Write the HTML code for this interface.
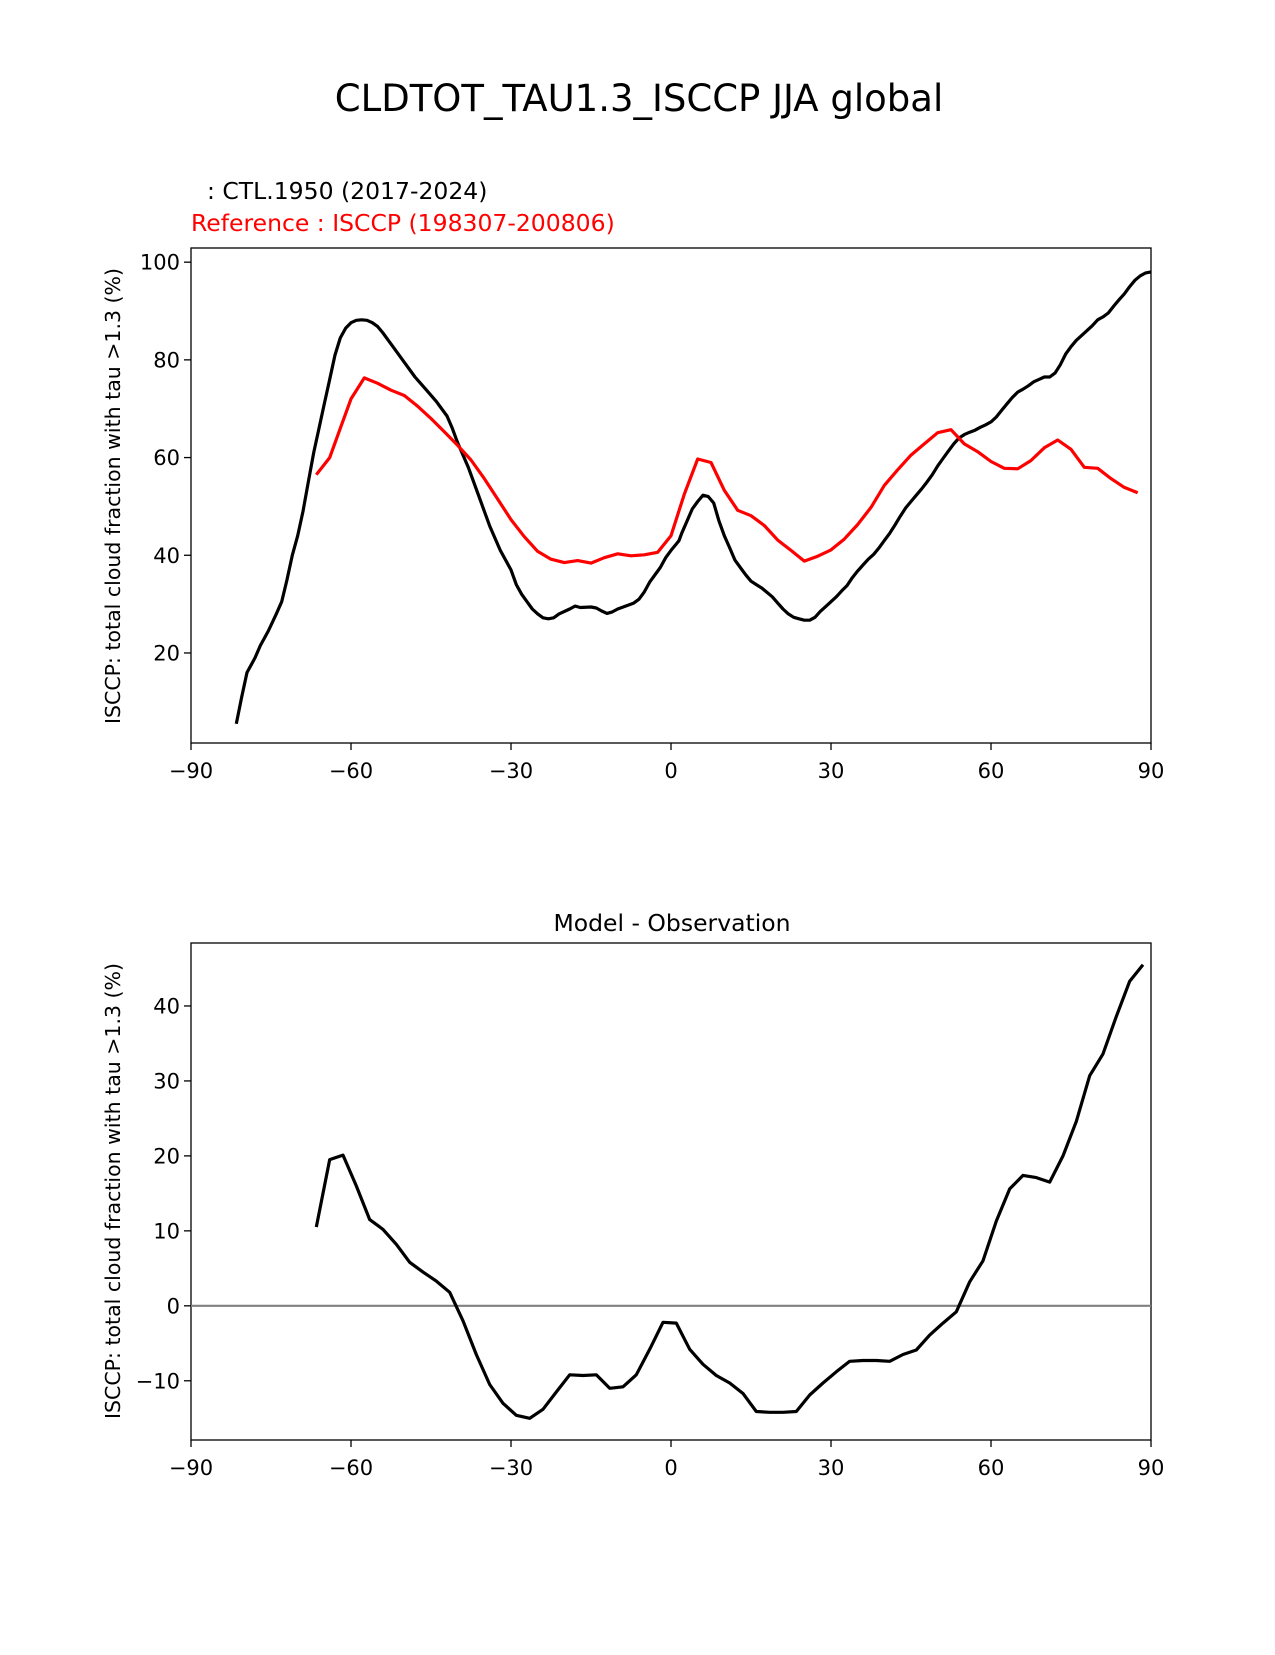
<!DOCTYPE html>
<html><head><meta charset="utf-8"><style>
html,body{margin:0;padding:0;background:#fff;}
svg text{font-family:"DejaVu Sans","Liberation Sans",sans-serif;}
</style></head><body>
<svg id="fig" width="1275" height="1650" viewBox="0 0 1275 1650" xmlns="http://www.w3.org/2000/svg">
<text x="639" y="111" font-size="37" text-anchor="middle">CLDTOT_TAU1.3_ISCCP JJA global</text>
<text x="207" y="199" font-size="23.5">: CTL.1950 (2017-2024)</text>
<text x="191" y="231" font-size="23.5" fill="#ff0000">Reference : ISCCP (198307-200806)</text>
<text x="672" y="931" font-size="23.5" text-anchor="middle">Model - Observation</text>
<g id="top"></g>
<g id="bot"></g>
</svg>
<script>
const modelLat=[-81.5,-80.5,-79.5,-78,-77,-75.5,-74,-73,-72,-71,-70,-69,-68,-67,-66,-65,-64,-63,-62,-61,-60,-59,-58,-57,-56,-55,-54,-53,-52,-50,-48,-46,-44,-42,-41,-40,-38,-36,-34,-32,-30,-29,-28,-27,-26,-25,-24,-23,-22,-21,-19,-18,-17,-15,-14,-13,-12,-11,-10,-8,-7,-6,-5,-4,-2,-1,0,1,1.5,2,3,4,5,6,7,8,9,10,11,12,13,14,15,16,17,18,19,20,21,22,23,24,25,26,27,28,29,30,31,32,33,34,35,36,37,38,39,40,41,42,43,44,45,46,47,48,49,50,51,52,53,54,55,56,57,58,59,60,61,62,63,64,65,66,67,68,69,70,71,72,73,74,75,76,77,78,79,80,81,82,83,84,85,86,87,88,89,90];
const modelVal=[5.5,11,16,19,21.5,24.5,28,30.5,35,40,44,49,55,61,66,71,76,81,84.5,86.5,87.6,88.1,88.2,88.1,87.6,86.8,85.5,84,82.5,79.5,76.5,74,71.5,68.5,66,63,58,52,46,41,37,34,32,30.5,29,28,27.2,27,27.2,28,29,29.6,29.3,29.4,29.2,28.6,28.1,28.4,29,29.8,30.2,31,32.5,34.5,37.5,39.5,41,42.3,43,44.5,47,49.5,51,52.3,52,50.7,47,44,41.5,39,37.5,36,34.7,34,33.3,32.4,31.5,30.2,29,28,27.3,27,26.7,26.7,27.3,28.5,29.5,30.5,31.5,32.7,33.8,35.4,36.8,38,39.2,40.2,41.5,43,44.5,46.2,48,49.7,51,52.3,53.6,55,56.5,58.3,59.8,61.3,62.8,64,64.7,65.2,65.6,66.2,66.7,67.3,68.3,69.7,71,72.3,73.4,74,74.7,75.5,76,76.5,76.5,77.3,79,81.2,82.7,84,85,86,87,88.2,88.8,89.6,91,92.3,93.5,95,96.3,97.2,97.8,98];
const obsLat=[-66.5,-64,-62,-60,-57.5,-55,-52.5,-50,-47.5,-45,-42.5,-40,-37.5,-35,-32.5,-30,-27.5,-25,-22.5,-20,-17.5,-15,-12.5,-10,-7.5,-5,-2.5,0,2.5,5,7.5,10,12.5,15,17.5,20,22.5,25,27.5,30,32.5,35,37.5,40,42.5,45,47.5,50,52.5,55,57.5,60,62.5,65,67.5,70,72.5,75,77.5,80,82.5,85,87.5];
const obsVal=[56.5,60,66,72,76.3,75.2,73.8,72.7,70.5,68,65.3,62.5,59.5,55.7,51.5,47.3,43.8,40.8,39.2,38.5,38.9,38.4,39.5,40.3,39.9,40.1,40.6,44,52.5,59.7,59,53.3,49.2,48.1,46.1,43.1,41,38.8,39.8,41.1,43.3,46.3,49.8,54.3,57.5,60.5,62.8,65.1,65.7,62.8,61.2,59.2,57.8,57.7,59.4,62,63.6,61.7,58,57.8,55.7,53.9,52.8];
const diffLat=[-66.5,-64,-61.5,-59,-56.5,-54,-51.5,-49,-46.5,-44,-41.5,-39,-36.5,-34,-31.5,-29,-26.5,-24,-21.5,-19,-16.5,-14,-11.5,-9,-6.5,-4,-1.5,1,3.5,6,8.5,11,13.5,16,18.5,21,23.5,26,28.5,31,33.5,36,38.5,41,43.5,46,48.5,51,53.5,56,58.5,61,63.5,66,68.5,71,73.5,76,78.5,81,83.5,86,88.5];
const diffVal=[10.5,19.5,20.1,16,11.5,10.2,8.2,5.8,4.5,3.3,1.8,-2,-6.5,-10.5,-13,-14.6,-15,-13.8,-11.5,-9.2,-9.3,-9.2,-11,-10.8,-9.2,-5.8,-2.2,-2.3,-5.8,-7.8,-9.3,-10.3,-11.7,-14.1,-14.2,-14.2,-14.1,-11.9,-10.3,-8.8,-7.4,-7.3,-7.3,-7.4,-6.5,-5.9,-3.9,-2.3,-0.8,3.2,6,11.3,15.6,17.4,17.1,16.5,20,24.6,30.7,33.6,38.6,43.3,45.5];
const xTicks=[-90,-60,-30,0,30,60,90];
const topYTicks=[20,40,60,80,100];
const botYTicks=[-10,0,10,20,30,40];
const yLabel="ISCCP: total cloud fraction with tau >1.3 (%)";

const NS="http://www.w3.org/2000/svg";
function mk(parent,tag,attrs){const e=document.createElementNS(NS,tag);for(const k in attrs)e.setAttribute(k,attrs[k]);parent.appendChild(e);return e;}
const L=191,R=1151;
const xs=v=>L+(v+90)/180*(R-L);

function axes(g,top,bot,ymin,ymax,yticks,ylabelY,name){
  const ys=v=>bot-(v-ymin)/(ymax-ymin)*(bot-top);
  const fr=mk(g,'rect',{x:L,y:top,width:R-L,height:bot-top,fill:'none',stroke:'#000','stroke-width':1.3});
  
  
  xTicks.forEach(t=>{
    const ln=mk(g,'line',{x1:xs(t),x2:xs(t),y1:bot,y2:bot+7,stroke:'#000','stroke-width':1.3});
    
    
    const tx=mk(g,'text',{x:xs(t),y:bot+35,'font-size':21,'text-anchor':'middle'});
    tx.textContent=(t<0?'\u2212'+(-t):String(t));
    
    
  });
  yticks.forEach(t=>{
    const ln=mk(g,'line',{x1:L-7,x2:L,y1:ys(t),y2:ys(t),stroke:'#000','stroke-width':1.3});
    
    
    const tx=mk(g,'text',{x:L-11,y:ys(t)+7.5,'font-size':21,'text-anchor':'end'});
    tx.textContent=(t<0?'\u2212'+(-t):String(t));
    
    
  });
  const yl=mk(g,'text',{x:0,y:0,'font-size':20.5,'text-anchor':'middle',transform:`translate(120,${ylabelY}) rotate(-90)`});
  yl.textContent=yLabel;
  
  
  return ys;
}
function line(g,lat,val,ys,color,w,name){
  const d=lat.map((v,i)=>(i?'L':'M')+xs(v).toFixed(1)+','+ys(val[i]).toFixed(1)).join(' ');
  const p=mk(g,'path',{d:d,fill:'none',stroke:color,'stroke-width':w,'stroke-linejoin':'round'});
  
  
}
const gt=document.getElementById('top');
const ysT=axes(gt,248,743,1.57,102.9,topYTicks,496,'top');
line(gt,modelLat,modelVal,ysT,'#000',3.2,'model-line');
line(gt,obsLat,obsVal,ysT,'#ff0000',3.2,'reference-line');
const gb=document.getElementById('bot');
const ysB=axes(gb,943,1440,-17.9,48.4,botYTicks,1191,'bottom');
const z=mk(gb,'line',{x1:L,x2:R,y1:ysB(0),y2:ysB(0),stroke:'#808080','stroke-width':2.2});


line(gb,diffLat,diffVal,ysB,'#000',3.2,'difference-line');
</script>
</body></html>
